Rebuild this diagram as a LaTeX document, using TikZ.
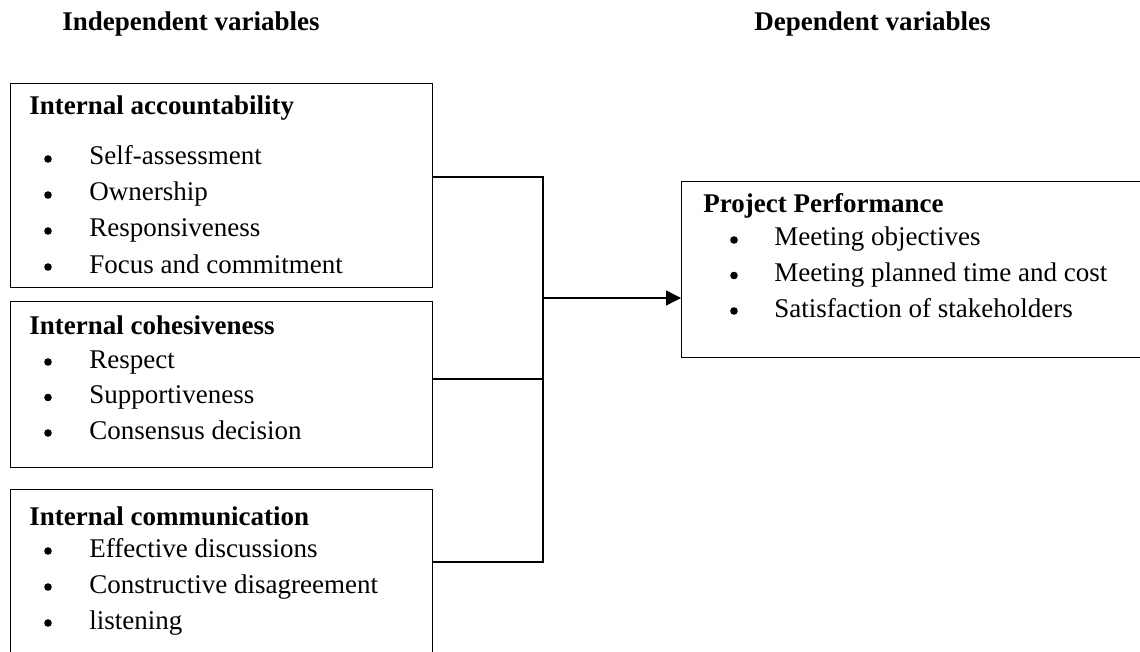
\documentclass[tikz,border=0pt]{standalone}
\usepackage{fontspec}
\setmainfont{Liberation Serif}
\usetikzlibrary{arrows.meta}

\begin{document}
\begin{tikzpicture}[x=0.5pt,y=-0.5pt,
        varbox/.style={draw,line width=0.7pt,rectangle,anchor=north west,inner sep=0pt},
        head/.style={anchor=base west,inner sep=0pt,font=\fontsize{13.5}{16}\selectfont\bfseries},
        item/.style={anchor=base west,inner sep=0pt,font=\fontsize{13.5}{16}\selectfont},
        dot/.style={circle,fill=black,inner sep=0pt,minimum size=3.8pt},
        link/.style={line width=0.7pt}]
        \useasboundingbox (0,0) rectangle (1140,652);
        \node[head] (indep) at (62,31) {Independent variables};
        \node[head] (dep) at (754,31) {Dependent variables};
        % boxes
        \node[varbox,minimum width=211pt,minimum height=102pt] (acc) at (10,83) {};
        \node[varbox,minimum width=211pt,minimum height=83pt] (coh) at (10,301) {};
        \node[varbox,minimum width=211pt,minimum height=92pt] (com) at (10,489) {};
        \node[varbox,minimum width=236pt,minimum height=88pt] (perf) at (681,181) {};
        % headings
        \node[head] (acc-h) at (29,115) {Internal accountability};
        \node[head] (coh-h) at (29,334) {Internal cohesiveness};
        \node[head] (com-h) at (29,525) {Internal communication};
        \node[head] (perf-h) at (703,213) {Project Performance};
        % items
        \foreach \t [count=\i] in {Self-assessment,Ownership,Responsiveness,Focus and commitment}{
            \node[dot] (acc-d\i) at (48,{159+36*(\i-1)}) {};
            \node[item] (acc-\i) at (89,{165+36*(\i-1)}) {\t};
        }
        \foreach \t [count=\i] in {Respect,Supportiveness,Consensus decision}{
            \node[dot] (coh-d\i) at (48,{362+35.5*(\i-1)}) {};
            \node[item] (coh-\i) at (89,{368+35.5*(\i-1)}) {\t};
        }
        \foreach \t [count=\i] in {Effective discussions,Constructive disagreement,listening}{
            \node[dot] (com-d\i) at (48,{551+36*(\i-1)}) {};
            \node[item] (com-\i) at (89,{557+36*(\i-1)}) {\t};
        }
        \foreach \t [count=\i] in {Meeting objectives,Meeting planned time and cost,Satisfaction of stakeholders}{
            \node[dot] (perf-d\i) at (734,{240+35.5*(\i-1)}) {};
            \node[item] (perf-\i) at (774,{246+35.5*(\i-1)}) {\t};
        }
        % connectors
        \coordinate (bus1) at (543,177);
        \coordinate (bus2) at (543,379);
        \coordinate (bus3) at (543,562);
        \coordinate (bus) at (543,298);
        \draw[link] (acc.east |- bus1) -- (bus1) -- (bus3) -- (com.east |- bus3);
        \draw[link] (coh.east |- bus2) -- (bus2);
        \draw[link,-{Triangle[length=7.5pt,width=7.5pt]}] (bus) -- (perf.west |- bus);
    \end{tikzpicture}
\end{document}
